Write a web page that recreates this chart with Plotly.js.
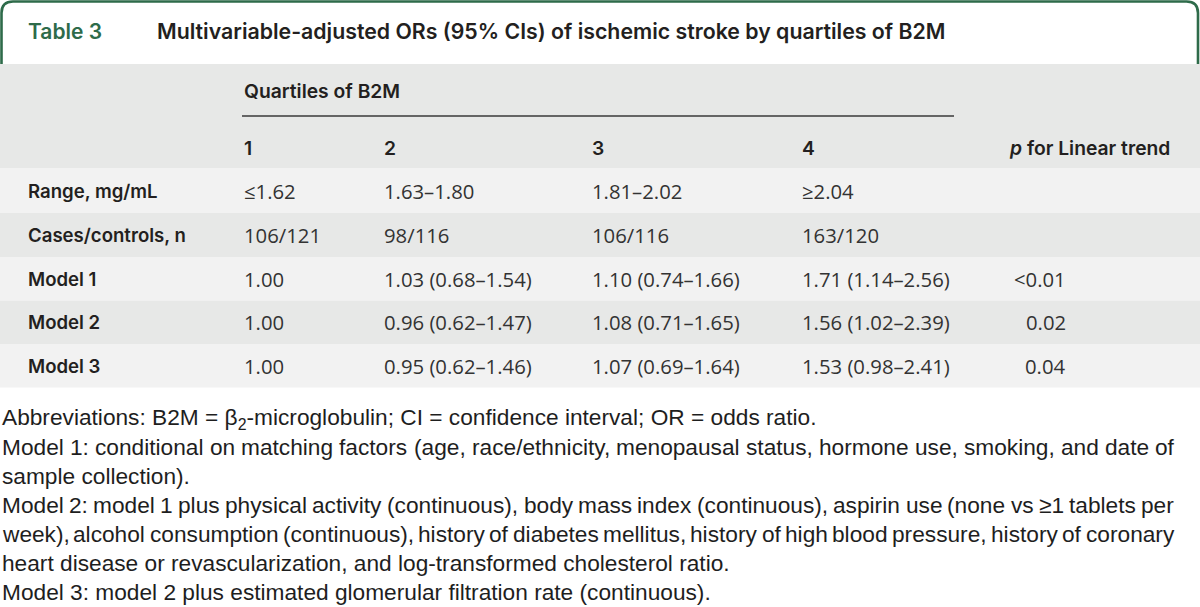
<!DOCTYPE html>
<html><head><meta charset="utf-8">
<script src="https://cdn.plot.ly/plotly-3.0.1.min.js"></script>
<style>html,body{margin:0;padding:0;background:#fff;} #chart{width:1200px;height:607px;}</style>
</head><body><div id="chart"></div>
<script>
// ---------------- data ----------------
const tableNumber = 'Table 3';
const tableTitle = 'Multivariable-adjusted ORs (95% CIs) of ischemic stroke by quartiles of B2M';
const spanHeader = 'Quartiles of B2M';
const quartiles = ['1', '2', '3', '4'];
const trendHeader = '<i>p</i> for Linear trend';
const rowLabels = ['Range, mg/mL', 'Cases/controls, n', 'Model 1', 'Model 2', 'Model 3'];
const rangeValues = ['≤1.62', '1.63–1.80', '1.81–2.02', '≥2.04'];
const casesControls = ['106/121', '98/116', '106/116', '163/120'];
const model1 = ['1.00', '1.03 (0.68–1.54)', '1.10 (0.74–1.66)', '1.71 (1.14–2.56)'];
const model2 = ['1.00', '0.96 (0.62–1.47)', '1.08 (0.71–1.65)', '1.56 (1.02–2.39)'];
const model3 = ['1.00', '0.95 (0.62–1.46)', '1.07 (0.69–1.64)', '1.53 (0.98–2.41)'];
const pTrend = ['', '', '&lt;0.01', '0.02', '0.04'];
const footnoteLines = [
  'Abbreviations: B2M = β<sub>2</sub>-microglobulin; CI = confidence interval; OR = odds ratio.',
  'Model 1: conditional on matching factors (age, race/ethnicity, menopausal status, hormone use, smoking, and date of',
  'sample collection).',
  'Model 2: model 1 plus physical activity (continuous), body mass index (continuous), aspirin use (none vs ≥1 tablets per',
  'week), alcohol consumption (continuous), history of diabetes mellitus, history of high blood pressure, history of coronary',
  'heart disease or revascularization, and log-transformed cholesterol ratio.',
  'Model 3: model 2 plus estimated glomerular filtration rate (continuous).'
];
const footnoteJustified = [false, true, false, true, true, false, false];

// ---------------- styles / layout geometry ----------------
const W = 1200, H = 607;
const GREEN = '#2e6b4a';
const DARK = '#231f20';
const BODY = '#333333';
const BAND_DARK = '#e7e8e7';
const BAND_LIGHT = '#f2f2f2';
const TF = 'Inter, Roboto, "Liberation Sans", sans-serif';
const BF = '"Open Sans", "Liberation Sans", sans-serif';
const FF = '"Liberation Sans", Arial, sans-serif';
const FN_SIZE = 22.7;

const colX = [243, 383, 591, 801];
const labelX = 27;
const trendHeaderX = 1008;
const trendRightX = 1067;
const rowEdges = [168, 213, 257, 300.5, 344, 387.5];
const headerTop = 64;
const colHeaderY = 148;
const spanY = 91;
const spanLine = {x0: 242, x1: 954, y: 116};
const fnLeft = 1, fnRight = 1173, fnTop = 418, fnPitch = 29;

const rows = [rangeValues, casesControls, model1, model2, model3];

const shapes = [];
const annotations = [];

// title box
shapes.push({type: 'path', xref: 'x', yref: 'y',
  path: 'M 1.5,64 L 1.5,13 Q 1.5,1.5 13,1.5 L 1186.5,1.5 Q 1198,1.5 1198,13 L 1198,64',
  line: {color: GREEN, width: 2.6}, fillcolor: 'rgba(0,0,0,0)'});
// header band
shapes.push({type: 'rect', xref: 'x', yref: 'y', x0: 0, x1: W, y0: headerTop, y1: rowEdges[0],
  fillcolor: BAND_DARK, line: {width: 0}, layer: 'below'});
// row bands
rowLabels.forEach((lab, i) => {
  shapes.push({type: 'rect', xref: 'x', yref: 'y', x0: 0, x1: W, y0: rowEdges[i], y1: rowEdges[i + 1],
    fillcolor: i % 2 === 0 ? BAND_LIGHT : BAND_DARK, line: {width: 0}, layer: 'below'});
});
// spanner rule
shapes.push({type: 'line', xref: 'x', yref: 'y', x0: spanLine.x0, x1: spanLine.x1, y0: spanLine.y, y1: spanLine.y,
  line: {color: '#3a3a3a', width: 1.6}});

function txt(text, x, y, opts) {
  annotations.push(Object.assign({
    text: text, x: x, y: y, xref: 'x', yref: 'y', showarrow: false,
    xanchor: 'left', yanchor: 'middle', borderpad: 0,
    font: {family: TF, size: 19, color: BODY}
  }, opts || {}));
}

const headFont = {family: TF, size: 19.3, color: DARK, weight: 600};

// titles
txt(tableNumber, labelX, 31, {font: {family: TF, size: 21, color: GREEN, weight: 600}});
txt(tableTitle, 156, 31, {font: {family: TF, size: 21.3, color: DARK, weight: 600}});
txt(spanHeader, colX[0], spanY, {font: headFont});
quartiles.forEach((q, j) => txt(q, colX[j], colHeaderY, {font: headFont}));
txt(trendHeader, trendHeaderX, colHeaderY, {font: headFont});

// body
rowLabels.forEach((lab, i) => {
  const yc = (rowEdges[i] + rowEdges[i + 1]) / 2;
  txt(lab, labelX, yc, {font: {family: TF, size: 18.6, color: DARK, weight: 600}});
  rows[i].forEach((v, j) => txt(v, colX[j], yc, {font: {family: BF, size: 20.3, color: BODY}}));
  if (pTrend[i]) txt(pTrend[i], trendRightX, yc, {xanchor: 'right', font: {family: BF, size: 20.3, color: BODY}});
});

// footnotes (justified lines spread word by word)
const ctx = document.createElement('canvas').getContext('2d');
ctx.font = FN_SIZE + 'px "Liberation Sans"';
footnoteLines.forEach((line, k) => {
  const y = fnTop + k * fnPitch;
  const fnFont = {family: FF, size: FN_SIZE, color: '#1e1e1e'};
  if (!footnoteJustified[k]) {
    txt(line, fnLeft, y, {font: fnFont});
  } else {
    const words = line.split(' ');
    const widths = words.map(w => ctx.measureText(w).width);
    const total = widths.reduce((a, b) => a + b, 0);
    const gap = (fnRight - fnLeft - total) / (words.length - 1);
    let x = fnLeft;
    words.forEach((w, i) => {
      txt(w, x, y, {font: fnFont});
      x += widths[i] + gap;
    });
  }
});

const layout = {
  width: W, height: H,
  margin: {l: 0, r: 0, t: 0, b: 0, pad: 0},
  paper_bgcolor: '#ffffff', plot_bgcolor: '#ffffff',
  xaxis: {range: [0, W], visible: false, fixedrange: true},
  yaxis: {range: [H, 0], visible: false, fixedrange: true},
  showlegend: false,
  shapes: shapes,
  annotations: annotations
};
Plotly.newPlot('chart', [], layout, {displayModeBar: false, staticPlot: true});
</script>
</body></html>
